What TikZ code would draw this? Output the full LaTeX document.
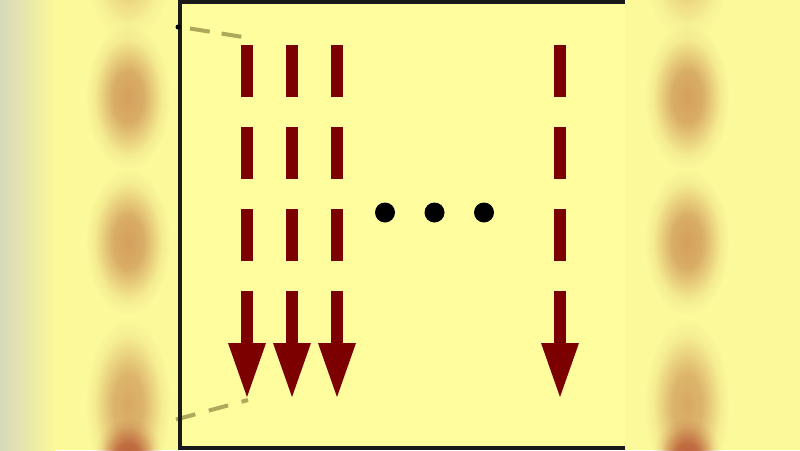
\documentclass[tikz,border=0pt]{standalone}
\usetikzlibrary{arrows.meta,fadings}
\definecolor{bgc}{RGB}{255,253,158}
\definecolor{sidec}{RGB}{251,249,154}
\definecolor{edgec}{RGB}{214,216,186}
\definecolor{arrc}{RGB}{125,0,0}
\definecolor{zoomc}{RGB}{172,170,90}
\definecolor{blobc}{RGB}{212,160,94}
\definecolor{blobr}{RGB}{182,82,48}
\pgfdeclareradialshading{blobshade}{\pgfpointorigin}{color(0bp)=(white); color(9bp)=(black!15); color(20bp)=(black!85); color(25bp)=(black); color(50bp)=(black)}
\pgfdeclarefading{blobfade}{\pgfuseshading{blobshade}}
\tikzset{
  stream/.style={draw=arrc, line width=12pt, dash pattern=on 52pt off 30pt,
    -{Triangle[width=38pt,length=54pt,line width=0pt,fill=arrc]}},
  zoomline/.style={draw=zoomc, line width=4pt},
  blob/.style={fill=blobc, path fading=blobfade},
  redblob/.style={fill=blobr, path fading=blobfade},
  dotmark/.style={fill=black},
  frame/.style={draw=black!90, line width=4pt}
}
\begin{document}
\begin{tikzpicture}[x=1pt,y=-1pt]
\useasboundingbox (0,0) rectangle (800,450);
% side panels (blurred)
\fill[sidec] (0,0) rectangle (178,450);
\shade[left color=edgec, right color=sidec] (0,0) rectangle (55,450);
\fill[sidec] (625,0) rectangle (800,450);
\foreach \bx in {128,687} {
  \fill[blob, opacity=0.5] (\bx,-30) ellipse [x radius=42, y radius=70];
  \fill[blob] (\bx,97) ellipse [x radius=42, y radius=72];
  \fill[blob] (\bx,242) ellipse [x radius=42, y radius=72];
  \fill[blob, opacity=0.9] (\bx,405) ellipse [x radius=42, y radius=85];
  \fill[redblob, opacity=0.9] (\bx,458) ellipse [x radius=34, y radius=40];
}
% central panel
\fill[bgc] (178,0) rectangle (625,450);
% arrows
\foreach \n/\ax in {1/247,2/292,3/337,4/560} {
  \coordinate (s\n) at (\ax,45);
  \coordinate (e\n) at (\ax,397);
  \draw[stream] (s\n) -- (e\n);
}
% dots
\node[dotmark, circle, inner sep=0pt, minimum size=20pt] (d1) at (385,212.5) {};
\node[dotmark, circle, inner sep=0pt, minimum size=20pt] (d2) at (434.5,212.5) {};
\node[dotmark, circle, inner sep=0pt, minimum size=20pt] (d3) at (484,212.5) {};
% zoom lines
\coordinate (zt1) at (190,28.5);
\coordinate (zt2) at (243,37);
\coordinate (zb1) at (176,419.5);
\coordinate (zb2) at (248,400);
\draw[zoomline, dash pattern=on 20pt off 12pt] (zt1) -- (zt2);
\draw[zoomline, dash pattern=on 20pt off 14pt] (zb1) -- (zb2);
% frame
\coordinate (f1) at (180,0);
\coordinate (f2) at (180,450);
\draw[frame] (f1) -- (f2);
\draw[frame] (178,1.5) -- (625,1.5);
\draw[frame] (178,447.5) -- (625,447.5);
\fill[black] (178,27) circle [radius=2.5];
\end{tikzpicture}
\end{document}
